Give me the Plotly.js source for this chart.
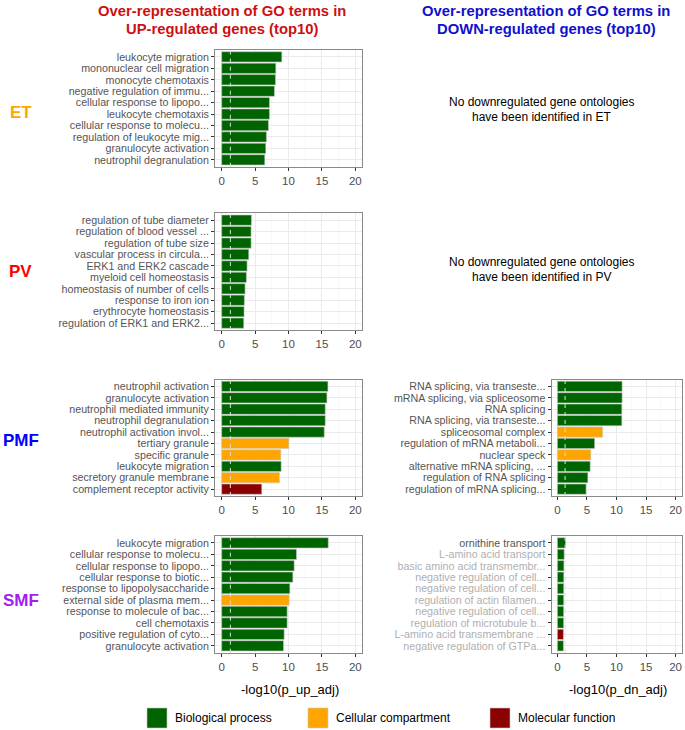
<!DOCTYPE html>
<html>
<head>
<meta charset="utf-8">
<script src="https://cdn.plot.ly/plotly-3.0.1.min.js"></script>
<style>html,body{margin:0;padding:0;background:#fff;}#chart{width:685px;height:730px;}</style>
</head>
<body>
<div id="chart"></div>
<script>
// ---------- data ----------
const etUpTerms = ["leukocyte migration","mononuclear cell migration","monocyte chemotaxis","negative regulation of immu...","cellular response to lipopo...","leukocyte chemotaxis","cellular response to molecu...","regulation of leukocyte mig...","granulocyte activation","neutrophil degranulation"];
const etUpValues = [9.0, 8.1, 8.05, 7.9, 7.15, 7.15, 7.0, 6.7, 6.6, 6.45];
const etUpOnt = ["BP","BP","BP","BP","BP","BP","BP","BP","BP","BP"];

const pvUpTerms = ["regulation of tube diameter","regulation of blood vessel ...","regulation of tube size","vascular process in circula...","ERK1 and ERK2 cascade","myeloid cell homeostasis","homeostasis of number of cells","response to iron ion","erythrocyte homeostasis","regulation of ERK1 and ERK2..."];
const pvUpValues = [4.45, 4.4, 4.4, 4.05, 3.8, 3.7, 3.5, 3.4, 3.35, 3.3];
const pvUpOnt = ["BP","BP","BP","BP","BP","BP","BP","BP","BP","BP"];

const pmfUpTerms = ["neutrophil activation","granulocyte activation","neutrophil mediated immunity","neutrophil degranulation","neutrophil activation invol...","tertiary granule","specific granule","leukocyte migration","secretory granule membrane","complement receptor activity"];
const pmfUpValues = [15.9, 15.75, 15.5, 15.5, 15.35, 10.05, 8.85, 8.9, 8.65, 6.0];
const pmfUpOnt = ["BP","BP","BP","BP","BP","CC","CC","BP","CC","MF"];

const smfUpTerms = ["leukocyte migration","cellular response to molecu...","cellular response to lipopo...","cellular response to biotic...","response to lipopolysaccharide","external side of plasma mem...","response to molecule of bac...","cell chemotaxis","positive regulation of cyto...","granulocyte activation"];
const smfUpValues = [15.95, 11.2, 10.85, 10.65, 10.2, 10.1, 9.8, 9.8, 9.35, 9.25];
const smfUpOnt = ["BP","BP","BP","BP","BP","CC","BP","BP","BP","BP"];

const pmfDnTerms = ["RNA splicing, via transeste...","mRNA splicing, via spliceosome","RNA splicing","RNA splicing, via transeste...","spliceosomal complex","regulation of mRNA metaboli...","nuclear speck","alternative mRNA splicing, ...","regulation of RNA splicing","regulation of mRNA splicing..."];
const pmfDnValues = [10.95, 10.95, 10.9, 10.9, 7.65, 6.3, 5.65, 5.55, 5.15, 4.85];
const pmfDnOnt = ["BP","BP","BP","BP","CC","BP","CC","BP","BP","BP"];

const smfDnTerms = ["ornithine transport","L-amino acid transport","basic amino acid transmembr...","negative regulation of cell...","negative regulation of cell...","regulation of actin filamen...","negative regulation of cell...","regulation of microtubule b...","L-amino acid transmembrane ...","negative regulation of GTPa..."];
const smfDnValues = [1.38, 1.15, 1.1, 1.08, 1.07, 1.07, 1.06, 1.05, 1.02, 1.02];
const smfDnOnt = ["BP","BP","BP","BP","BP","BP","BP","BP","MF","BP"];

const ontNames = {BP:"Biological process", CC:"Cellular compartment", MF:"Molecular function"};
const ontColors = {BP:"#006400", CC:"#FFA500", MF:"#8B0000"};
const xTicks = [0, 5, 10, 15, 20];
const threshold = 1.3; // -log10(0.05)
const noDataText = ["No downregulated gene ontologies","have been identified in ET","No downregulated gene ontologies","have been identified in PV"];

// ---------- layout helpers ----------
const W = 685, H = 730;
const px = v => v / W;
const py = v => 1 - v / H;

const panels = [
  {terms: etUpTerms, vals: etUpValues, ont: etUpOnt, x:[215,362], y:[50,166.7], range:[-1,21]},
  {terms: pvUpTerms, vals: pvUpValues, ont: pvUpOnt, x:[215,362], y:[213.3,330], range:[-1,21]},
  {terms: pmfUpTerms, vals: pmfUpValues, ont: pmfUpOnt, x:[215,362], y:[379.5,496], range:[-1,21]},
  {terms: smfUpTerms, vals: smfUpValues, ont: smfUpOnt, x:[215,362], y:[536,652.7], range:[-1,21]},
  {terms: pmfDnTerms, vals: pmfDnValues, ont: pmfDnOnt, x:[551.5,681.5], y:[379.5,496], range:[-1,21]},
  {terms: smfDnTerms, vals: smfDnValues, ont: smfDnOnt, x:[551.5,681.5], y:[536,652.7], range:[-1,21]}
];

const FONT = "Liberation Sans, Arial, sans-serif";
const traces = [];
const layout = {
  width: W, height: H,
  margin: {l:0, r:0, t:0, b:0},
  paper_bgcolor: "#ffffff",
  plot_bgcolor: "#ffffff",
  showlegend: false,
  bargap: 0.1,
  font: {family: FONT, color: "#000"},
  shapes: [],
  annotations: []
};

panels.forEach((p, i) => {
  const n = i + 1;
  const xa = n === 1 ? "x" : "x" + n;
  const ya = n === 1 ? "y" : "y" + n;
  const pos = p.terms.map((_, k) => k);
  traces.push({
    type: "bar",
    orientation: "h",
    x: p.vals,
    y: pos,
    xaxis: xa, yaxis: ya,
    width: 0.9,
    marker: {color: p.ont.map(o => ontColors[o]), line: {color: "#C8C8C8", width: 0.6}},
    hoverinfo: "x+text",
    text: p.terms, textposition: "none"
  });
  const ticktext = p.terms.map((t, k) =>
    p.vals[k] >= threshold ? t : '<span style="color:#B0B0B0">' + t + '</span>');
  layout["xaxis" + (n === 1 ? "" : n)] = {
    domain: [px(p.x[0]), px(p.x[1])],
    anchor: ya,
    range: p.range,
    tickvals: xTicks,
    ticktext: xTicks.map(String),
    ticks: "outside", ticklen: 3, tickcolor: "#333333", tickwidth: 1,
    tickfont: {family: FONT, size: 11.5, color: "#4D4D4D"},
    showgrid: true, gridcolor: "#EBEBEB", gridwidth: 1,
    minor: {dtick: 2.5, tick0: 0, showgrid: true, gridcolor: "#F3F3F3", gridwidth: 0.6, ticks: ""},
    zeroline: false,
    showline: true, mirror: true, linecolor: "#8A8A8A", linewidth: 1,
    fixedrange: true
  };
  layout["yaxis" + (n === 1 ? "" : n)] = {
    domain: [py(p.y[1]), py(p.y[0])],
    anchor: xa,
    range: [9.6, -0.6],
    tickvals: pos,
    ticktext: ticktext,
    ticks: "outside", ticklen: 3, tickcolor: "#333333", tickwidth: 1,
    tickfont: {family: FONT, size: 10.7, color: "#555555"},
    showgrid: true, gridcolor: "#EBEBEB", gridwidth: 1,
    zeroline: false,
    showline: true, mirror: true, linecolor: "#8A8A8A", linewidth: 1,
    fixedrange: true
  };
  layout.shapes.push({
    type: "line", xref: xa, yref: ya + " domain",
    x0: threshold, x1: threshold, y0: 0, y1: 1,
    line: {color: "#DCDCDC", width: 1, dash: "4px,4px"}
  });
});

// column titles
const titleFont = (c) => ({family: FONT, size: 14.8, color: c});
layout.annotations.push(
  {text: "<b>Over-representation of GO terms in</b>", x: px(222), y: py(11), xref:"paper", yref:"paper", showarrow:false, xanchor:"center", yanchor:"middle", font: titleFont("#CD1010")},
  {text: "<b>UP-regulated genes (top10)</b>", x: px(222), y: py(29), xref:"paper", yref:"paper", showarrow:false, xanchor:"center", yanchor:"middle", font: titleFont("#CD1010")},
  {text: "<b>Over-representation of GO terms in</b>", x: px(546), y: py(11), xref:"paper", yref:"paper", showarrow:false, xanchor:"center", yanchor:"middle", font: titleFont("#1010CD")},
  {text: "<b>DOWN-regulated genes (top10)</b>", x: px(546), y: py(29), xref:"paper", yref:"paper", showarrow:false, xanchor:"center", yanchor:"middle", font: titleFont("#1010CD")}
);

// row labels
const rows = [["ET","#FFA500",112],["PV","#FF0000",271],["PMF","#0000FF",440],["SMF","#A020F0",600]];
rows.forEach(r => layout.annotations.push({
  text: "<b>" + r[0] + "</b>", x: px(20.5), y: py(r[2]), xref:"paper", yref:"paper",
  showarrow:false, xanchor:"center", yanchor:"middle",
  font: {family: FONT, size: 17, color: r[1]}
}));

// no-data messages
[[102,0],[117,1],[262,2],[277,3]].forEach(m => layout.annotations.push({
  text: noDataText[m[1]], x: px(541), y: py(m[0]), xref:"paper", yref:"paper",
  showarrow:false, xanchor:"center", yanchor:"middle",
  font: {family: FONT, size: 12, color: "#000"}
}));

// x-axis titles
layout.annotations.push(
  {text: "-log10(p_up_adj)", x: px(290), y: py(689), xref:"paper", yref:"paper", showarrow:false, xanchor:"center", yanchor:"middle", font:{family: FONT, size: 13, color:"#000"}},
  {text: "-log10(p_dn_adj)", x: px(618), y: py(689), xref:"paper", yref:"paper", showarrow:false, xanchor:"center", yanchor:"middle", font:{family: FONT, size: 13, color:"#000"}}
);

// legend
const legendItems = [["BP",147],["CC",308],["MF",490]];
legendItems.forEach(l => {
  layout.shapes.push({type:"rect", xref:"paper", yref:"paper",
    x0: px(l[1]), x1: px(l[1] + 20), y0: py(728), y1: py(708),
    fillcolor: ontColors[l[0]], line:{color:"#C8C8C8", width:0.6}});
  layout.annotations.push({text: ontNames[l[0]], x: px(l[1] + 26), y: py(718), xref:"paper", yref:"paper",
    showarrow:false, xanchor:"left", yanchor:"middle", font:{family: FONT, size: 12, color:"#000"}});
});

Plotly.newPlot("chart", traces, layout, {displayModeBar: false, staticPlot: true});
</script>
</body>
</html>
